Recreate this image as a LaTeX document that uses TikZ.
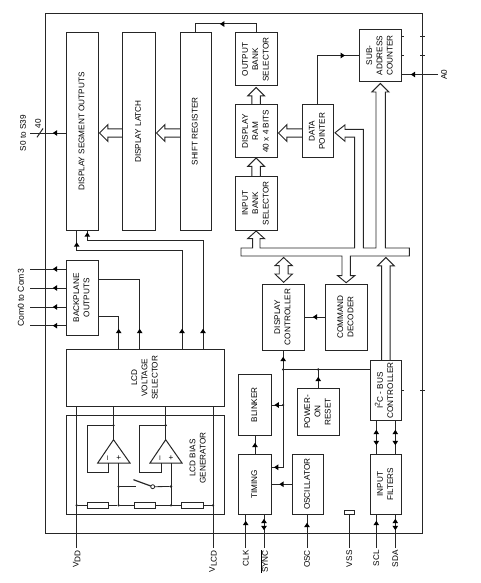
\documentclass[tikz,border=0pt]{standalone}
\usepackage{fontspec}
\usepackage{graphicx}
\setmainfont{Liberation Sans}
\usetikzlibrary{decorations.markings}
\definecolor{ink}{gray}{0.15}
\newcommand\vt[1]{\rotatebox{90}{\begin{tabular}{@{}c@{}}#1\end{tabular}}}
\newcommand\vl[1]{\rotatebox{90}{#1}}
\newcommand\bx[6]{%
  \pgfmathsetmacro\bxcx{(#2+#4)/2}\pgfmathsetmacro\bxcy{(#3+#5)/2}%
  \pgfmathsetmacro\bxw{#4-#2}\pgfmathsetmacro\bxh{#5-#3}%
  \node[box,minimum width=\bxw pt,minimum height=\bxh pt] (#1) at (\bxcx,\bxcy) {\vt{#6}};}
\newcommand\holl[3]{\draw[hollow,shift={(#1)},rotate=#2]
  (0,-4.2) -- (#3-8.4,-4.2) -- (#3-8.4,-8.4) -- (#3,0) -- (#3-8.4,8.4) -- (#3-8.4,4.2) -- (0,4.2);}
\tikzset{
  box/.style={draw=ink,line width=1pt,inner sep=0pt,outer sep=0pt,font=\fontsize{8.2}{10.3}\selectfont,text=black},
  wire/.style={draw=ink,line width=1pt},
  thinw/.style={draw=ink,line width=0.8pt},
  hollow/.style={draw=ink,line width=0.95pt,line join=miter},
  dot/.style={circle,fill=ink,inner sep=0pt,minimum size=2.6pt,outer sep=0pt},
  res/.style={draw=ink,line width=0.8pt,inner sep=0pt,outer sep=0pt,minimum width=21.4pt,minimum height=6pt},
  lab/.style={font=\fontsize{8.2}{10.3}\selectfont,text=black,inner sep=0pt},
  blab/.style={lab,anchor=north,inner xsep=0pt,inner ysep=2pt},
  hd/.style={postaction={decorate,decoration={markings,mark=at position #1 with {\fill[black] (2.2pt,0pt)--(-2.2pt,-2.9pt)--(-2.2pt,2.9pt)--cycle;}}}},
  rhd/.style={postaction={decorate,decoration={markings,mark=at position #1 with {\fill[black] (-2.2pt,0pt)--(2.2pt,-2.9pt)--(2.2pt,2.9pt)--cycle;}}}},
}
\begin{document}
\begin{tikzpicture}[x=1pt,y=-1pt]
\useasboundingbox (0,0) rectangle (480,583);
% chip outline
\node[draw=ink,line width=1pt,inner sep=0pt,outer sep=0pt,minimum width=377pt,minimum height=519.3pt] (chip) at (234,273.65) {};
% blocks
\bx{seg}{66.5}{33}{98}{230}{DISPLAY SEGMENT OUTPUTS}
\bx{latch}{122.5}{33}{155}{230}{DISPLAY LATCH}
\bx{sr}{180}{33}{211}{230}{SHIFT REGISTER}
\bx{obank}{235}{33}{277.3}{86}{OUTPUT\\BANK\\SELECTOR}
\bx{ram}{235}{105}{277.3}{157.5}{DISPLAY\\RAM\\40 x 4 BITS}
\bx{ibank}{235}{176.5}{277.3}{230}{INPUT\\BANK\\SELECTOR}
\bx{dp}{302}{105}{333.5}{157.5}{DATA\\POINTER}
\bx{sub}{359}{29.5}{401.7}{81.5}{SUB-\\ADDRESS\\COUNTER}
\bx{dc}{262}{284}{304.3}{350}{DISPLAY\\CONTROLLER}
\bx{cd}{325}{284}{367.5}{350}{COMMAND\\DECODER}
\bx{i2c}{370}{360}{401.7}{420.7}{I\smash{\raisebox{0.75ex}{\fontsize{6.8}{7}\selectfont 2}}C - BUS\\CONTROLLER}
\bx{blink}{238.5}{374}{271.5}{435.5}{BLINKER}
\bx{por}{297}{388}{339.5}{435.5}{POWER-\\ON\\RESET}
\bx{tim}{238.5}{454}{271.5}{514.5}{TIMING}
\bx{oscb}{292}{454}{323.5}{514.5}{OSCILLATOR}
\bx{inf}{370}{454}{401.7}{514.5}{INPUT\\FILTERS}
\bx{bp}{66.5}{260}{98}{335.5}{BACKPLANE\\OUTPUTS}
\bx{vs}{66.5}{349.5}{224}{406}{LCD\\VOLTAGE\\SELECTOR}
\bx{bias}{66.5}{415}{224}{514.5}{}
\node[box,draw=ink,minimum width=10.5pt,minimum height=4.7pt] (vssb) at (349.25,512.35) {};
% labels
\node[lab] (biaslab) at (198.5,458) {\vt{LCD BIAS\\GENERATOR}};
\node[blab] (vdd) at (76.7,548) {\vl{V\raisebox{-1.6pt}{DD}}};
\node[blab] (vlcd) at (213,548) {\vl{V\raisebox{-1.6pt}{LCD}}};
\node[blab] (clk) at (245.7,548) {\vl{CLK}};
\node[blab] (sync) at (264,548) {\vl{$\overline{\hbox{SYNC}}$}};
\node[blab] (osc) at (307,548) {\vl{OSC}};
\node[blab] (vss) at (349.25,548) {\vl{V\,SS}};
\node[blab] (scl) at (376.3,548) {\vl{SCL}};
\node[blab] (sda) at (395.3,548) {\vl{SDA}};
\node[lab,anchor=west,inner xsep=3pt] (a0) at (438,74.5) {\vl{A0}};
\node[lab] (s0lab) at (23,133) {\vl{S0 to S39}};
\node[lab] (forty) at (38,123.5) {\vl{40}};
\node[lab,font=\fontsize{8.6}{10}\selectfont] (comlab) at (21,298) {\vl{Com0 to Com3}};
% free wire ends
\coordinate (s0end) at (30,133);
\coordinate (com1) at (30,269);
\coordinate (com2) at (30,288);
\coordinate (com3) at (30,307);
\coordinate (com4) at (30,325.7);
\coordinate (slashA) at (37,137.3);
\coordinate (slashB) at (43,128.5);
% output wires
\draw[wire,hd=11.5pt] (s0end -| seg.west) -- (s0end);
\draw[wire] (slashA) -- (slashB);
\foreach \c in {com1,com2,com3,com4} \draw[wire,hd=11.5pt] (\c -| bp.west) -- (\c);
\draw[wire,hd=43pt] (obank.north) -- (256.15,24) -- (195.5,24) -- (sr.north);
\draw[wire,hd=74.5pt] (dp.north) -- (317.75,55.5) -- (sub.west);
\draw[wire,hd=25pt] (a0.west) -- (a0.west -| sub.east);
% ticks
\foreach \yy in {36.3,55.5,390} {
  \draw[thinw] (401.7,\yy) -- (404.2,\yy);
  \draw[thinw] (420,\yy) -- (424.5,\yy);
}
% voltage selector to outputs
\draw[wire,hd=18.5pt] ([xshift=52.2pt]vs.north west) -- (118.7,316.5) -- ([yshift=-56.5pt]bp.north east);
\draw[wire,hd=18.5pt] ([xshift=73.2pt]vs.north west) -- (139.7,279) -- ([yshift=-19pt]bp.north east);
\draw[wire,hd=18.5pt,hd={-14.5pt}] ([xshift=115.5pt]vs.north west) -- (182,250.7) -- (76.7,250.7) -- ([xshift=10.2pt]seg.south west);
\draw[wire,hd=18.5pt,hd={-4.5pt}] ([xshift=136.5pt]vs.north west) -- (203,240.7) -- (87.3,240.7) -- ([xshift=20.8pt]seg.south west);
% hollow arrows
\holl{latch.west |- s0end}{180}{23}
\holl{sr.west |- s0end}{180}{23.5}
\holl{ram.north}{90}{17.5}
\holl{ibank.north}{90}{18.5}
\holl{dp.west |- s0end}{180}{23.5}
\holl{i2c.north}{90}{102.5}
% bus
\draw[hollow] (241,248) -- (252.7,248) -- (252.7,238.7) -- (247.6,238.7) -- ([yshift=-1pt]ibank.south) -- (264.6,238.7) -- (260,238.7) -- (260,248)
  -- (354.7,248) -- (354.7,137.2) -- (345,137.2) -- (345,141.3) -- ([shift={(1.5pt,-1.5pt)}]dp.east) -- (345,124.9) -- (345,129.3) -- (363.3,129.3) -- (363.3,248)
  -- (376,248) -- (376,92) -- (371.9,92) -- ([yshift=-2pt]sub.south) -- (388.9,92) -- (385.3,92) -- (385.3,248)
  -- (409.3,248) -- (409.3,256) -- (350.3,256) -- (350.3,275.7) -- (354.7,275.7) -- ([xshift=-0.1pt,yshift=1.3pt]cd.north) -- (337.7,275.7) -- (342,275.7) -- (342,256) -- (241,256) -- cycle;
\draw[hollow,shift={(dc.north)}] (0.5,-1.7) -- (9.2,-10) -- (4.9,-10) -- (4.9,-18.3) -- (9.2,-18.3) -- (0.5,-26.5) -- (-8.2,-18.3) -- (-3.9,-18.3) -- (-3.9,-10) -- (-8.2,-10) -- cycle;
% control wires
\draw[wire,hd=10pt] (cd.west) -- (cd.west -| dc.east);
\node[dot] (j1) at (283.15,369.5) {};
\node[dot] (j2) at (318.25,369.5) {};
\node[dot] (j3) at (283.15,405) {};
\coordinate (tin) at (271.5,467.3);
\draw[wire] (i2c.west |- j1) -- (j1);
\draw[wire,hd=10.5pt] (j1.center) -- (dc.south);
\draw[wire,hd=104.8pt] (j1.center) -- (j1 |- tin) -- (tin);
\draw[wire,hd=6.5pt] (j3.center) -- (j3 -| blink.east);
\draw[wire,hd=9pt] (por.north) -- (j2.center);
\draw[wire,hd=9pt] (tim.north) -- (blink.south);
\draw[wire,hd=10.5pt] (oscb.west) -- (tim.east);
% pins
\draw[wire,hd=25pt] (clk.north) -- (clk.north |- tim.south);
\draw[wire,hd=27pt,rhd=20pt] (sync.north) -- (sync.north |- tim.south);
\draw[wire,hd=23pt] (osc.north) -- (osc.north |- oscb.south);
\draw[wire] (vss.north) -- (vssb.south);
\draw[wire,hd=25pt] (scl.north) -- (scl.north |- inf.south);
\draw[wire,hd=27pt,rhd=20pt] (sda.north) -- (sda.north |- inf.south);
\draw[wire,hd=22pt,rhd=11pt] (scl.north |- inf.north) -- (scl.north |- i2c.south);
\draw[wire,hd=22pt,rhd=11pt] (sda.north |- inf.north) -- (sda.north |- i2c.south);
\draw[wire] (vdd.north) -- (vdd.north |- vs.south);
\draw[wire] (vlcd.north) -- (vlcd.north |- vs.south);
% bias generator
\node[dot] (d0) at (76.7,505.3) {};
\node[dot] (d1) at (118.7,505.3) {};
\node[dot] (d2) at (171,505.3) {};
\node[dot] (d3) at (213,505.3) {};
\node[dot] (d4) at (118.7,486.5) {};
\node[dot] (d5) at (171,486.5) {};
\node[dot] (f1) at (113.5,425.3) {};
\node[dot] (f2) at (165.7,425.3) {};
\node[res] (r1) at (98,505.3) {};
\node[res] (r2) at (145,505.3) {};
\node[res] (r3) at (192.2,505.3) {};
\draw[thinw] (d0) -- (r1);
\draw[thinw] (r1) -- (d1);
\draw[thinw] (d1) -- (r2);
\draw[thinw] (r2) -- (d2);
\draw[thinw] (d2) -- (r3);
\draw[thinw] (r3) -- (d3);
% op-amps
\coordinate (a1) at (113.5,439.7);
\coordinate (a2) at (165.7,439.7);
\draw[wire,line join=miter] (a1) -- (97.7,463) -- (130,463) -- cycle;
\draw[wire,line join=miter] (a2) -- (150,463) -- (182,463) -- cycle;
\node[lab] (m1) at (108.7,458) {\vl{–}};
\node[lab] (p1) at (118.7,458) {+};
\node[lab] (m2) at (161,458) {\vl{–}};
\node[lab] (p2) at (171,458) {+};
\draw[wire] ([xshift=47pt]vs.south west) -- (a1);
\draw[wire] ([xshift=99.2pt]vs.south west) -- (a2);
\draw[wire] (f1.center) -- (87.3,425.3) -- (87.3,472.3) -- (108.7,472.3) -- (108.7,463);
\draw[wire] (f2.center) -- (139.7,425.3) -- (139.7,472.3) -- (161,472.3) -- (161,463);
\draw[wire] (d1.center) -- (118.7,463);
\draw[wire] (d2.center) -- (171,463);
% switch
\node[circle,draw=ink,line width=0.8pt,inner sep=0pt,minimum size=4pt,outer sep=0pt] (sw) at (152.7,486.7) {};
\coordinate (swc) at (136,486.5);
\coordinate (swa) at (133.5,479.7);
\draw[thinw] (d4) -- (swc);
\draw[wire,line width=1.2pt] (swa) -- (sw);
\draw[thinw] (sw) -- (d5);
\end{tikzpicture}
\end{document}
